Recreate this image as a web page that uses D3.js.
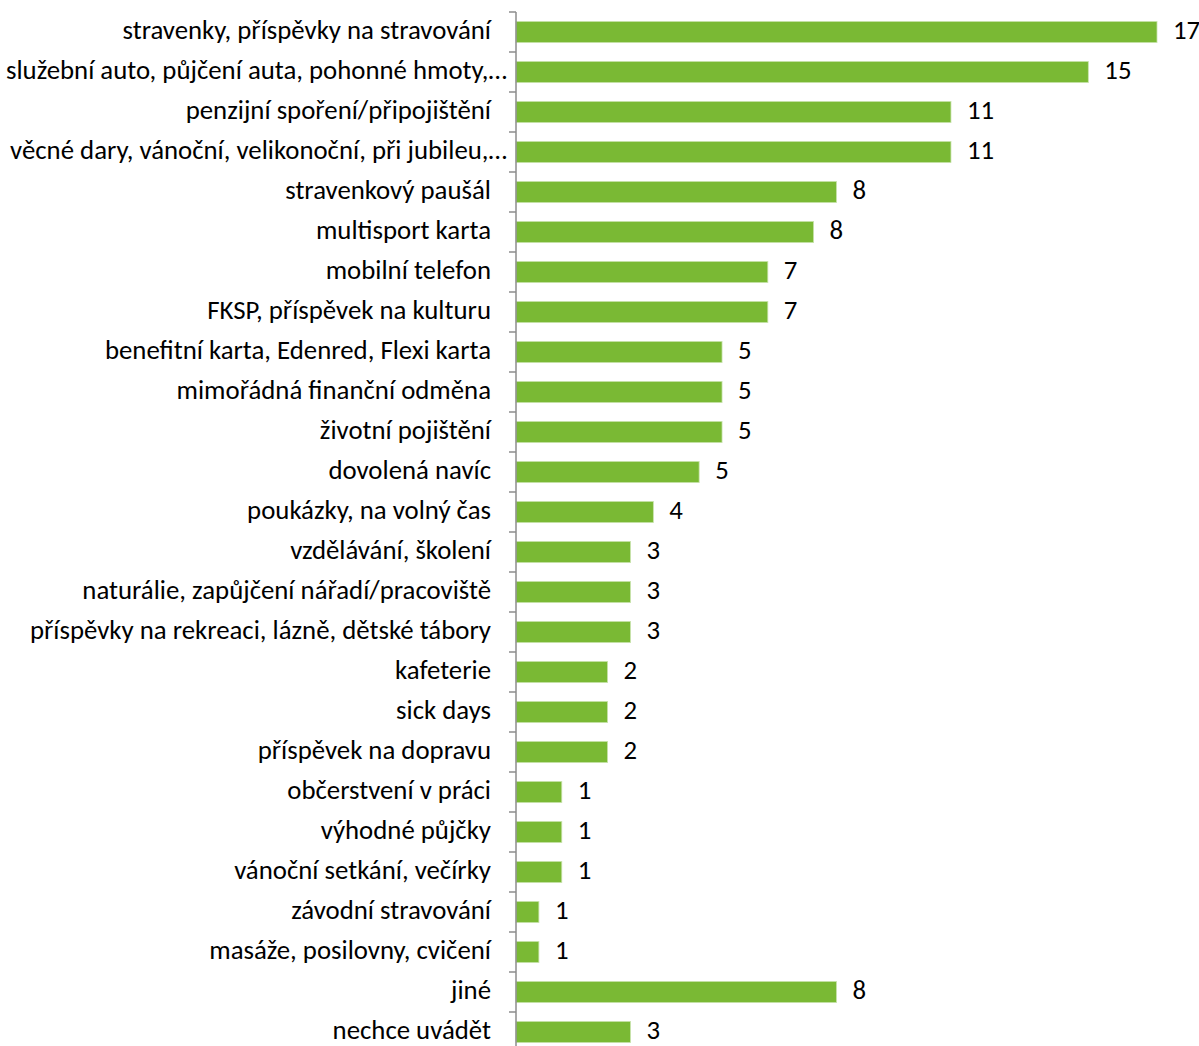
<!DOCTYPE html>
<html>
<head>
<meta charset="utf-8">
<script src="https://cdn.jsdelivr.net/npm/d3@7"></script>
<style>
  body { margin: 0; background: #fff; }
  svg text { font-family: Carlito, Calibri, Lato, sans-serif; fill: #000; }
</style>
</head>
<body>
<div id="chart"></div>
<script>
// categories, top to bottom
const categories = [
  "stravenky, příspěvky na stravování",
  "služební auto, půjčení auta, pohonné hmoty,…",
  "penzijní spoření/připojištění",
  "věcné dary, vánoční, velikonoční, při jubileu,…",
  "stravenkový paušál",
  "multisport karta",
  "mobilní telefon",
  "FKSP, příspěvek na kulturu",
  "benefitní karta, Edenred, Flexi karta",
  "mimořádná finanční odměna",
  "životní pojištění",
  "dovolená navíc",
  "poukázky, na volný čas",
  "vzdělávání, školení",
  "naturálie, zapůjčení nářadí/pracoviště",
  "příspěvky na rekreaci, lázně, dětské tábory",
  "kafeterie",
  "sick days",
  "příspěvek na dopravu",
  "občerstvení v práci",
  "výhodné půjčky",
  "vánoční setkání, večírky",
  "závodní stravování",
  "masáže, posilovny, cvičení",
  "jiné",
  "nechce uvádět"
];

// percent (bar length, labels are rounded)
const values = [
  16.8, 15.0, 11.4, 11.4, 8.4, 7.8, 6.6, 6.6, 5.4, 5.4, 5.4, 4.8, 3.6,
  3.0, 3.0, 3.0, 2.4, 2.4, 2.4, 1.2, 1.2, 1.2, 0.6, 0.6, 8.4, 3.0
];

const width = 1199;
const height = 1046;
const axisX = 516;
const fontSize = "26.8px";

const data = categories.map((c, i) => ({ name: c, value: values[i] }));

const svg = d3.select("#chart").append("svg")
  .attr("width", width)
  .attr("height", height);

const x = d3.scaleLinear()
  .domain([0, 16.8])
  .range([axisX, 1157]);

const y = d3.scaleBand()
  .domain(categories)
  .range([12, 1052])
  .paddingInner(0.47)
  .paddingOuter(0.235);

const step = y.step();

// bars
svg.selectAll("rect.bar")
  .data(data)
  .enter().append("rect")
  .attr("class", "bar")
  .attr("x", x(0))
  .attr("y", d => y(d.name))
  .attr("width", d => x(d.value) - x(0))
  .attr("height", y.bandwidth())
  .attr("fill", "#7ab934")
  .attr("stroke", "#c9e3ad")
  .attr("stroke-width", 0.8);

// value labels
svg.selectAll("text.val")
  .data(data)
  .enter().append("text")
  .attr("class", "val")
  .attr("x", d => x(d.value) + 16)
  .attr("y", d => y(d.name) + y.bandwidth() / 2)
  .attr("dy", "0.27em")
  .style("font-size", fontSize)
  .text(d => d3.format(".0f")(d.value));

// category labels (the cut ones sit closer to the axis, like excel)
svg.selectAll("text.cat")
  .data(data)
  .enter().append("text")
  .attr("class", "cat")
  .attr("x", d => d.name.endsWith("…") ? axisX - 9 : axisX - 25)
  .attr("y", d => y(d.name) + y.bandwidth() / 2)
  .attr("dy", "0.27em")
  .attr("text-anchor", "end")
  .style("font-size", fontSize)
  .text(d => d.name);

// axis line and boundary ticks
const axisColor = "#8c8c8c";
svg.append("line")
  .attr("x1", axisX).attr("x2", axisX)
  .attr("y1", 12).attr("y2", height)
  .attr("stroke", axisColor)
  .attr("stroke-width", 1.5);

svg.selectAll("line.tick")
  .data(categories)
  .enter().append("line")
  .attr("class", "tick")
  .attr("x1", axisX - 7).attr("x2", axisX)
  .attr("y1", (d, i) => 12 + i * step)
  .attr("y2", (d, i) => 12 + i * step)
  .attr("stroke", axisColor)
  .attr("stroke-width", 1.5);
</script>
</body>
</html>
